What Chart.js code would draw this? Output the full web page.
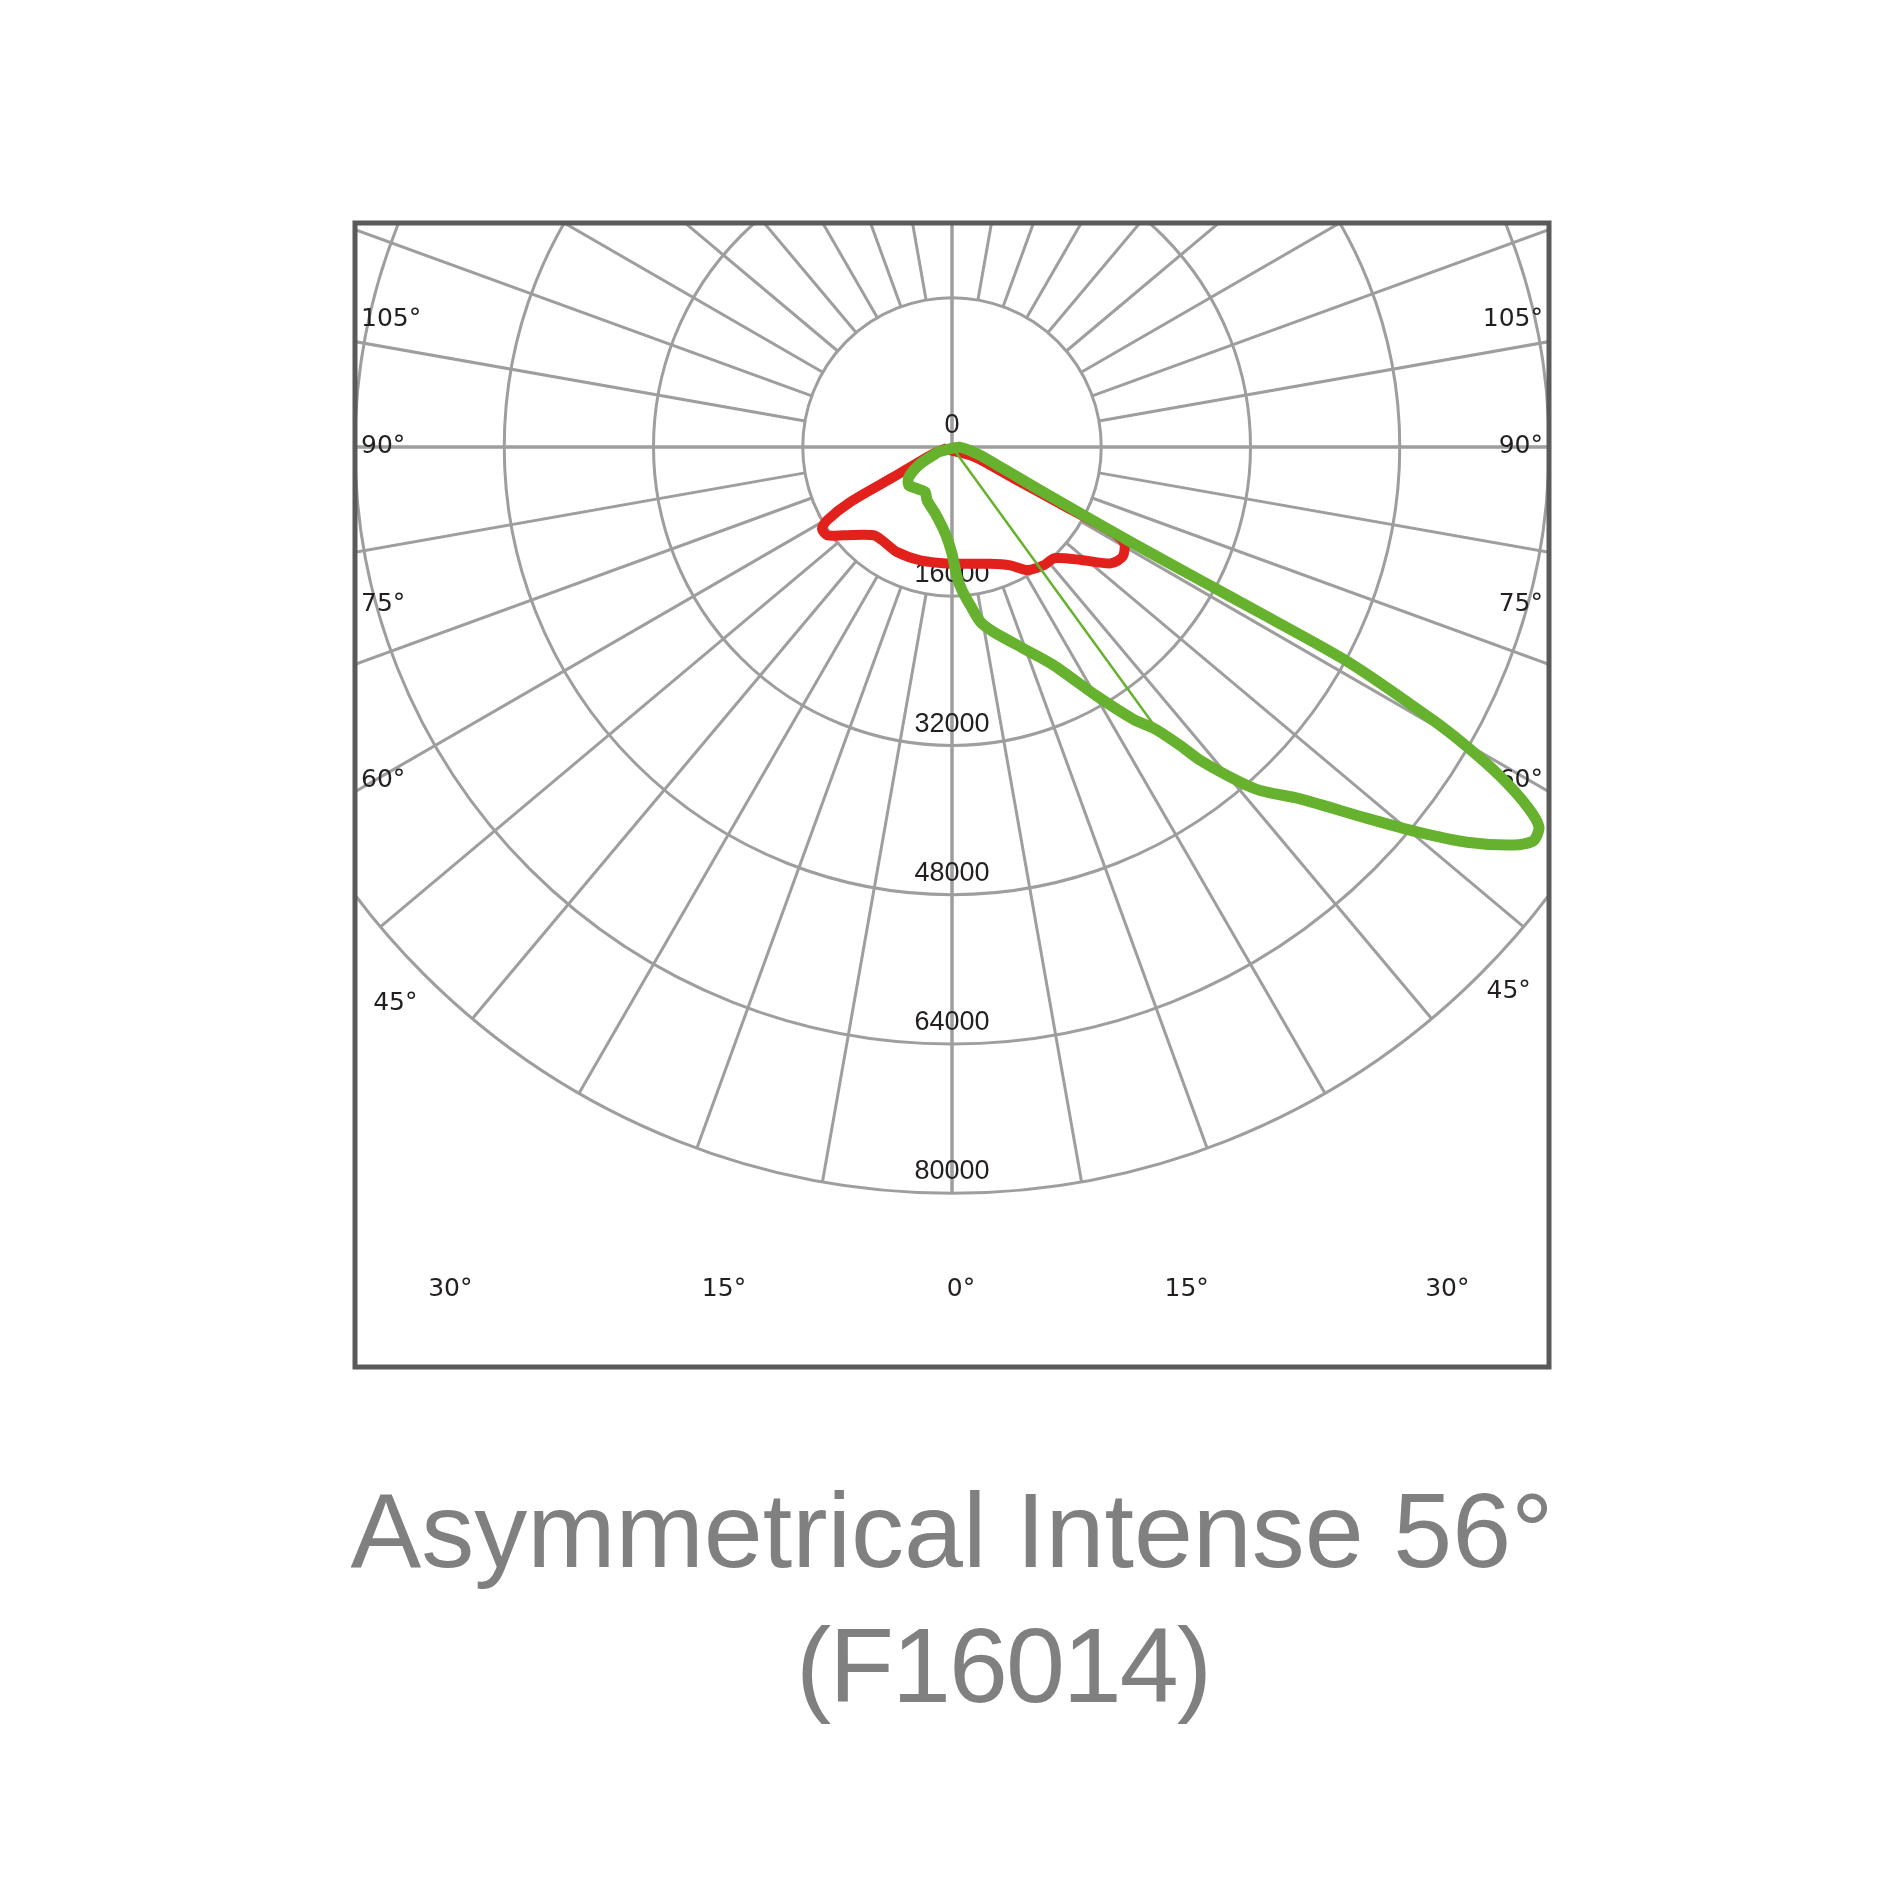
<!DOCTYPE html>
<html>
<head>
<meta charset="utf-8">
<title>Asymmetrical Intense 56° (F16014)</title>
<script src="https://cdn.jsdelivr.net/npm/chart.js@4.4.1/dist/chart.umd.min.js"></script>
<style>
  html, body { margin: 0; padding: 0; background: #fff; }
  #wrap { width: 1900px; height: 1900px; }
</style>
</head>
<body>
<div id="wrap"><canvas id="polar" width="1900" height="1900"></canvas></div>
<script>
// Polar intensity chart, angles measured from nadir (0° = straight down), cd values

// grid
const ringValues = [16000, 32000, 48000, 64000, 80000];
const ringLabels = ['0', '16000', '32000', '48000', '64000', '80000'];
const sideAngles = [105, 90, 75, 60, 45];
const bottomAngles = [-30, -15, 0, 15, 30];

// red plane
const redAngles = [-75, -69, -62.8, -61.6, -59.6, -57.9, -54.8, -50.8, -41.6, -36.9, -27.6, -15.6, 0, 18, 26.2, 31.6, 38, 42.6, 48.8, 53.8, 57.3, 60.8, 62, 62.3, 63, 66];
const redValues = [800, 2490, 7030, 12390, 15530, 16460, 16400, 14980, 12650, 12500, 12710, 12610, 12510, 13160, 14140, 15480, 16060, 16200, 18380, 21120, 21750, 21160, 19700, 13500, 7400, 2500];

// green plane
const greenAngles = [-70, -62, -55, -48.5, -40, -31, -25, -14, -4.4, 0, 2.2, 4, 6.6, 9.2, 12.7, 19.6, 25, 30.2, 33.7, 35.8, 37.4, 38.4, 40.7, 41.9, 44.7, 48.2, 50.4, 52.5, 54.7, 55.9, 57.1, 58, 59, 59.8, 60.4, 61.5, 61.7, 61.8, 62, 62.6, 64, 67, 74, 88];
const greenValues = [1500, 3840, 5650, 6200, 5830, 5610, 6310, 7370, 9320, 11440, 13950, 15400, 17090, 19000, 20330, 22950, 25820, 30900, 35100, 37300, 40280, 42860, 47390, 49470, 53060, 59720, 64720, 69580, 73820, 75280, 74940, 72730, 68600, 63890, 59370, 48600, 38000, 30000, 22000, 16000, 10000, 6000, 3000, 800];

// thin green ray
const rayAngles = [36, 36];
const rayValues = [0, 36700];

const titleLines = ['Asymmetrical Intense 56°', '(F16014)'];

function toXY(angle, cd) {
  const rad = angle * Math.PI / 180;
  return { x: cd * Math.sin(rad), y: -cd * Math.cos(rad) };
}

function polarPoints(angles, values, closed) {
  const pts = angles.map((a, i) => toXY(a, values[i]));
  if (closed) pts.push(pts[0]);
  return pts;
}

const polarGrid = {
  id: 'polarGrid',
  beforeDatasetsDraw(chart) {
    const { ctx, chartArea: area, scales: { x, y } } = chart;
    const cx = x.getPixelForValue(0);
    const cy = y.getPixelForValue(0);
    const pxPerCd = (x.getPixelForValue(1000) - cx) / 1000;

    ctx.save();
    ctx.beginPath();
    ctx.rect(area.left, area.top, area.right - area.left, area.bottom - area.top);
    ctx.clip();

    ctx.strokeStyle = '#9e9e9e';
    ctx.lineWidth = 3;
    ringValues.forEach(v => {
      ctx.beginPath();
      ctx.arc(cx, cy, v * pxPerCd, 0, Math.PI * 2);
      ctx.stroke();
    });

    const inner = ringValues[0], outer = ringValues[ringValues.length - 1];
    for (let a = 0; a < 360; a += 10) {
      const p1 = toXY(a, a % 90 === 0 ? 0 : inner);
      const p2 = toXY(a, outer);
      ctx.beginPath();
      ctx.moveTo(x.getPixelForValue(p1.x), y.getPixelForValue(p1.y));
      ctx.lineTo(x.getPixelForValue(p2.x), y.getPixelForValue(p2.y));
      ctx.stroke();
    }
    // full horizontal axis and vertical axis
    ctx.beginPath();
    ctx.moveTo(area.left, cy); ctx.lineTo(area.right, cy);
    ctx.moveTo(cx, area.top); ctx.lineTo(cx, cy + outer * pxPerCd);
    ctx.stroke();

    // ring value labels, sitting on top of each ring
    ctx.fillStyle = '#231f20';
    ctx.font = '27px "Liberation Sans", Arial, sans-serif';
    ctx.textAlign = 'center';
    ctx.textBaseline = 'alphabetic';
    [0].concat(ringValues).forEach((v, i) => {
      ctx.fillText(ringLabels[i], cx, y.getPixelForValue(-v) - 14);
    });

    // angle labels along the sides: at the box edge, or just past the outer ring
    ctx.font = '25px "DejaVu Sans", sans-serif';
    const rMax = 84400 * pxPerCd;
    sideAngles.forEach(a => {
      const rad = a * Math.PI / 180;
      const s = Math.sin(rad), c = Math.cos(rad);
      const rEdge = (cx - area.left - 30) / s;
      const text = a + '°';
      if (rEdge <= rMax) {
        const yPix = cy + rEdge * c;
        ctx.textBaseline = a > 90 ? 'top' : 'middle';
        const yy = a > 90 ? yPix + 12 : (a === 90 ? yPix : yPix + 6);
        ctx.textAlign = 'left';
        ctx.fillText(text, area.left + 6, yy);
        ctx.textAlign = 'right';
        ctx.fillText(text, area.right - 6, yy);
      } else {
        ctx.textBaseline = 'middle';
        ctx.textAlign = 'center';
        ctx.fillText(text, cx - rMax * s, cy + rMax * c);
        ctx.fillText(text, cx + rMax * s, cy + rMax * c - 12);
      }
    });

    // angle labels along the bottom
    ctx.textAlign = 'center';
    ctx.textBaseline = 'middle';
    bottomAngles.forEach(a => {
      const p = toXY(a, 90300 / Math.cos(a * Math.PI / 180));
      const sx = x.getPixelForValue(p.x);
      const spread = a < 0 ? 0.05 * (sx - cx) : 0;
      ctx.fillText(Math.abs(a) + '°', sx + spread + 9, y.getPixelForValue(p.y));
    });
    ctx.restore();
  },
  afterDraw(chart) {
    const { ctx, chartArea: area } = chart;
    ctx.save();
    ctx.strokeStyle = '#5a5a5a';
    ctx.lineWidth = 5;
    ctx.strokeRect(area.left, area.top, area.right - area.left, area.bottom - area.top);

    ctx.fillStyle = '#808080';
    ctx.font = '106px "Liberation Sans", Arial, sans-serif';
    ctx.textAlign = 'center';
    ctx.textBaseline = 'alphabetic';
    ctx.letterSpacing = '0px';
    ctx.fillText(titleLines[0], 952, 1567);
    ctx.letterSpacing = '-2px';
    ctx.fillText(titleLines[1], 1003, 1702);
    ctx.restore();
  }
};

new Chart(document.getElementById('polar').getContext('2d'), {
  type: 'scatter',
  data: {
    datasets: [
      {
        label: 'ray',
        data: polarPoints(rayAngles, rayValues, false),
        showLine: true,
        borderColor: '#66b22e',
        borderWidth: 2.5,
        pointRadius: 0,
        order: 0
      },
      {
        label: 'C90-C270',
        data: polarPoints(greenAngles, greenValues, true),
        showLine: true,
        borderColor: '#66b22e',
        borderWidth: 11,
        borderJoinStyle: 'round',
        borderCapStyle: 'round',
        tension: 0.25,
        pointRadius: 0,
        order: 1
      },
      {
        label: 'C0-C180',
        data: polarPoints(redAngles, redValues, true),
        showLine: true,
        borderColor: '#e2211c',
        borderWidth: 10,
        borderJoinStyle: 'round',
        borderCapStyle: 'round',
        tension: 0.25,
        pointRadius: 0,
        order: 2
      }
    ]
  },
  options: {
    responsive: false,
    devicePixelRatio: 1,
    animation: false,
    layout: { padding: { left: 355, right: 351, top: 223, bottom: 533 } },
    scales: {
      x: { type: 'linear', min: -64000, max: 64000, display: false },
      y: { type: 'linear', min: -98600, max: 24000, display: false }
    },
    plugins: {
      legend: { display: false },
      tooltip: { enabled: false }
    }
  },
  plugins: [polarGrid]
});
</script>
</body>
</html>
